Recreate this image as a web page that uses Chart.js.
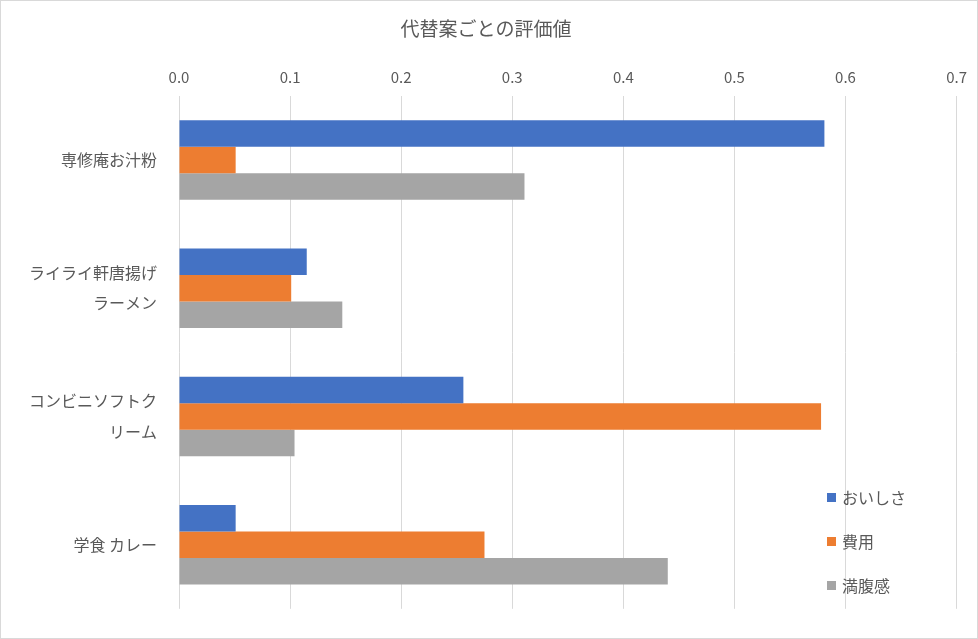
<!DOCTYPE html>
<html>
<head>
<meta charset="utf-8">
<script src="https://cdn.jsdelivr.net/npm/chart.js@4"></script>
<style>
  html, body { margin: 0; padding: 0; background: #fff; }
  #wrap { position: relative; width: 976px; height: 637px; border: 1px solid #d9d9d9; }
  #legend { position: absolute; left: 826px; top: 474px; font-family: "Noto Sans CJK JP", sans-serif; font-size: 16px; color: #595959; }
  .item { display: flex; align-items: center; height: 44px; }
  .box { width: 9px; height: 9px; margin-right: 6px; }
</style>
</head>
<body>
<div id="wrap">
  <canvas id="chart" width="976" height="637"></canvas>
  <div id="legend"></div>
</div>
<script>
// Data
const categories = [['専修庵お汁粉'], ['ライライ軒唐揚げ', 'ラーメン'], ['コンビニソフトク', 'リーム'], ['学食 カレー']];
const seriesNames = ['おいしさ', '費用', '満腹感'];
const taste = [0.581, 0.115, 0.256, 0.051];
const cost = [0.051, 0.101, 0.578, 0.275];
const fullness = [0.311, 0.147, 0.104, 0.440];
const colors = ['#4472C4', '#ED7D31', '#A5A5A5'];

const font = "'Noto Sans CJK JP', sans-serif";
const textColor = '#595959';

const datasets = [taste, cost, fullness].map((values, i) => ({
  label: seriesNames[i],
  data: values,
  backgroundColor: colors[i],
  borderWidth: 0,
  barPercentage: 1,
  categoryPercentage: 0.62
}));

new Chart(document.getElementById('chart'), {
  type: 'bar',
  data: { labels: categories, datasets },
  options: {
    indexAxis: 'y',
    responsive: false,
    animation: false,
    layout: { padding: { left: 14, right: 20, top: 4, bottom: 16 } },
    plugins: {
      legend: { display: false },
      tooltip: { enabled: false },
      title: {
        display: true,
        text: '代替案ごとの評価値',
        color: textColor,
        font: { family: font, size: 19, weight: 'normal' },
        padding: { top: 12, bottom: 18 }
      }
    },
    scales: {
      x: {
        position: 'top',
        min: 0,
        max: 0.7,
        ticks: { stepSize: 0.1, color: textColor, font: { family: font, size: 15 }, callback: v => v.toFixed(1), padding: 10 },
        grid: { color: '#d9d9d9', drawTicks: false },
        border: { display: false }
      },
      y: {
        ticks: { color: textColor, font: { family: font, size: 16, lineHeight: 1.9 }, padding: 14 },
        grid: { display: false },
        border: { display: false }
      }
    }
  }
});

// Legend overlay
document.getElementById('legend').innerHTML = seriesNames.map((name, i) =>
  `<div class="item"><div class="box" style="background:${colors[i]}"></div>${name}</div>`
).join('');
</script>
</body>
</html>
